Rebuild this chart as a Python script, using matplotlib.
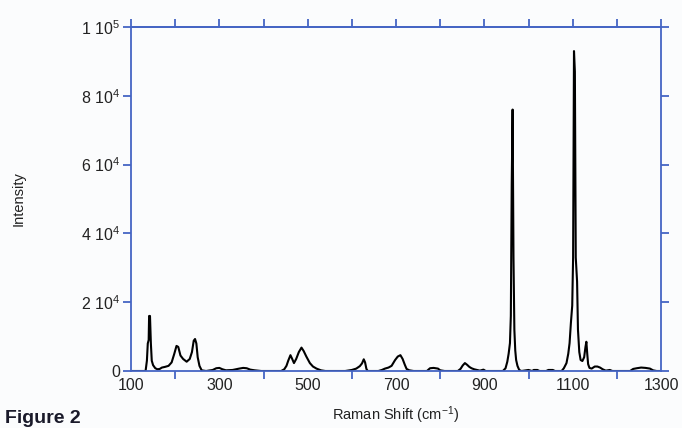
import matplotlib
matplotlib.use('Agg')
import matplotlib.pyplot as plt
from matplotlib.ticker import MultipleLocator, FixedLocator

plt.rcParams['font.family'] = ['Liberation Sans', 'DejaVu Sans']
plt.rcParams['mathtext.default'] = 'regular'

# spectrum (Raman shift in cm-1, intensity in counts)
shift = [100, 120, 133, 136, 138, 140, 141, 143, 145, 147, 150, 155, 160, 165, 170, 177,
         185, 192, 198, 203, 207, 212, 218, 226, 233, 238, 242, 245, 248, 251, 255, 260,
         270, 285, 293, 300, 307, 315, 330, 345, 354, 362, 370, 380, 395, 425, 440, 447,
         452, 456, 461, 465, 469, 474, 480, 486, 491, 497, 505, 512, 520, 530, 540, 585,
         600, 610, 618, 623, 627, 630, 633, 636, 660, 668, 675, 683, 690, 698, 704, 710,
         715, 720, 724, 730, 740, 770, 777, 785, 795, 800, 810, 840, 846, 851, 856, 861,
         866, 871, 877, 883, 890, 898, 903, 942, 948, 952, 955, 958, 960, 962, 964, 966,
         968, 970, 972, 975, 979, 984, 1000, 1008, 1012, 1020, 1025, 1040, 1045, 1055, 1060,
         1075, 1080, 1086, 1090, 1093, 1096, 1099, 1101, 1103, 1105, 1107, 1110, 1112, 1115,
         1118, 1122, 1126, 1129, 1131, 1133, 1135, 1138, 1143, 1150, 1156, 1162, 1168, 1175,
         1184, 1190, 1230, 1237, 1245, 1255, 1265, 1275, 1282, 1290, 1300]
intensity = [0, 0, 0, 3000, 8000, 9000, 16000, 16000, 8000, 3000, 1700, 800, 500, 600, 1000, 1200,
             1500, 2500, 5000, 7300, 7000, 4500, 3500, 2700, 3500, 5500, 8800, 9300, 8000, 4000, 1500, 200,
             0, 300, 800, 900, 500, 200, 300, 700, 900, 800, 400, 200, 0, 0, 0, 500,
             1500, 3000, 4600, 3500, 2300, 3500, 5500, 6800, 5800, 4200, 2300, 1300, 700, 200, 0, 0,
             300, 700, 1400, 2200, 3400, 2500, 600, 0, 0, 300, 700, 1000, 1500, 3200, 4200, 4600,
             3500, 1800, 600, 200, 0, 0, 800, 900, 700, 200, 0, 0, 600, 1600, 2300, 1800,
             1200, 800, 500, 300, 100, 400, 0, 0, 800, 2700, 5000, 8100, 16000, 54000, 76000, 33000,
             12000, 6000, 3200, 1500, 300, 0, 300, 0, 300, 300, 0, 0, 300, 300, 0,
             0, 800, 2300, 5000, 8100, 14000, 19000, 33000, 93000, 87000, 33000, 26000, 12000, 5500,
             3200, 2900, 4000, 7000, 8500, 5000, 2000, 900, 700, 1300, 1300, 1000, 500, 100,
             300, 0, 0, 600, 800, 1000, 900, 700, 200, 0, 0]

x_labels = [100, 300, 500, 700, 900, 1100, 1300]
y_ticks = [0, 20000, 40000, 60000, 80000, 100000]
y_labels = ['0', '2 10$^{4}$', '4 10$^{4}$', '6 10$^{4}$', '8 10$^{4}$', '1 10$^{5}$']

blue = '#4565c4'
bg = '#fbfcfd'

fig = plt.figure(figsize=(6.82, 4.28), dpi=100, facecolor=bg)
ax = fig.add_axes([131/682, 57/428, 530/682, 344/428], facecolor=bg)

ax.plot(shift, intensity, color='black', lw=1.5, zorder=2)
ax.set_xlim(100, 1300)
ax.set_ylim(0, 100000)

for s in ax.spines.values():
    s.set_color(blue)
    s.set_linewidth(1.3)
    s.set_zorder(3)

# bottom: labels on odd hundreds, ticks on even hundreds
ax.xaxis.set_major_locator(FixedLocator(x_labels))
ax.set_xticklabels([str(v) for v in x_labels])
ax.xaxis.set_minor_locator(FixedLocator([200, 400, 600, 800, 1000, 1200]))
ax.tick_params(axis='x', which='major', length=0, pad=5, labelsize=11.5, labelcolor='#222222')
ax.tick_params(axis='x', which='minor', direction='out', length=6, width=1.3, color=blue)

ax.set_yticks(y_ticks)
ax.set_yticklabels(y_labels)
ax.tick_params(axis='y', which='major', direction='out', length=6, width=1.3, color=blue,
               labelsize=11.5, labelcolor='#222222', pad=2, right=True)

# top ticks every 100
top = ax.secondary_xaxis('top')
top.xaxis.set_major_locator(MultipleLocator(100))
top.tick_params(direction='out', length=6, width=1.3, color=blue, labeltop=False)
top.spines['top'].set_color(blue)
top.spines['top'].set_linewidth(1.3)

ax.set_xlabel('Raman Shift (cm$^{-1}$)', fontsize=10.5, color='#222222', labelpad=8)
ax.set_ylabel('Intensity', fontsize=10.5, color='#222222', labelpad=40)

fig.text(5/682, 1 - 410/428, 'Figure 2', fontsize=14, fontweight='bold', color='#1a1a2a',
         va='top', ha='left')

fig.savefig('out.png', dpi=100, facecolor=bg)
